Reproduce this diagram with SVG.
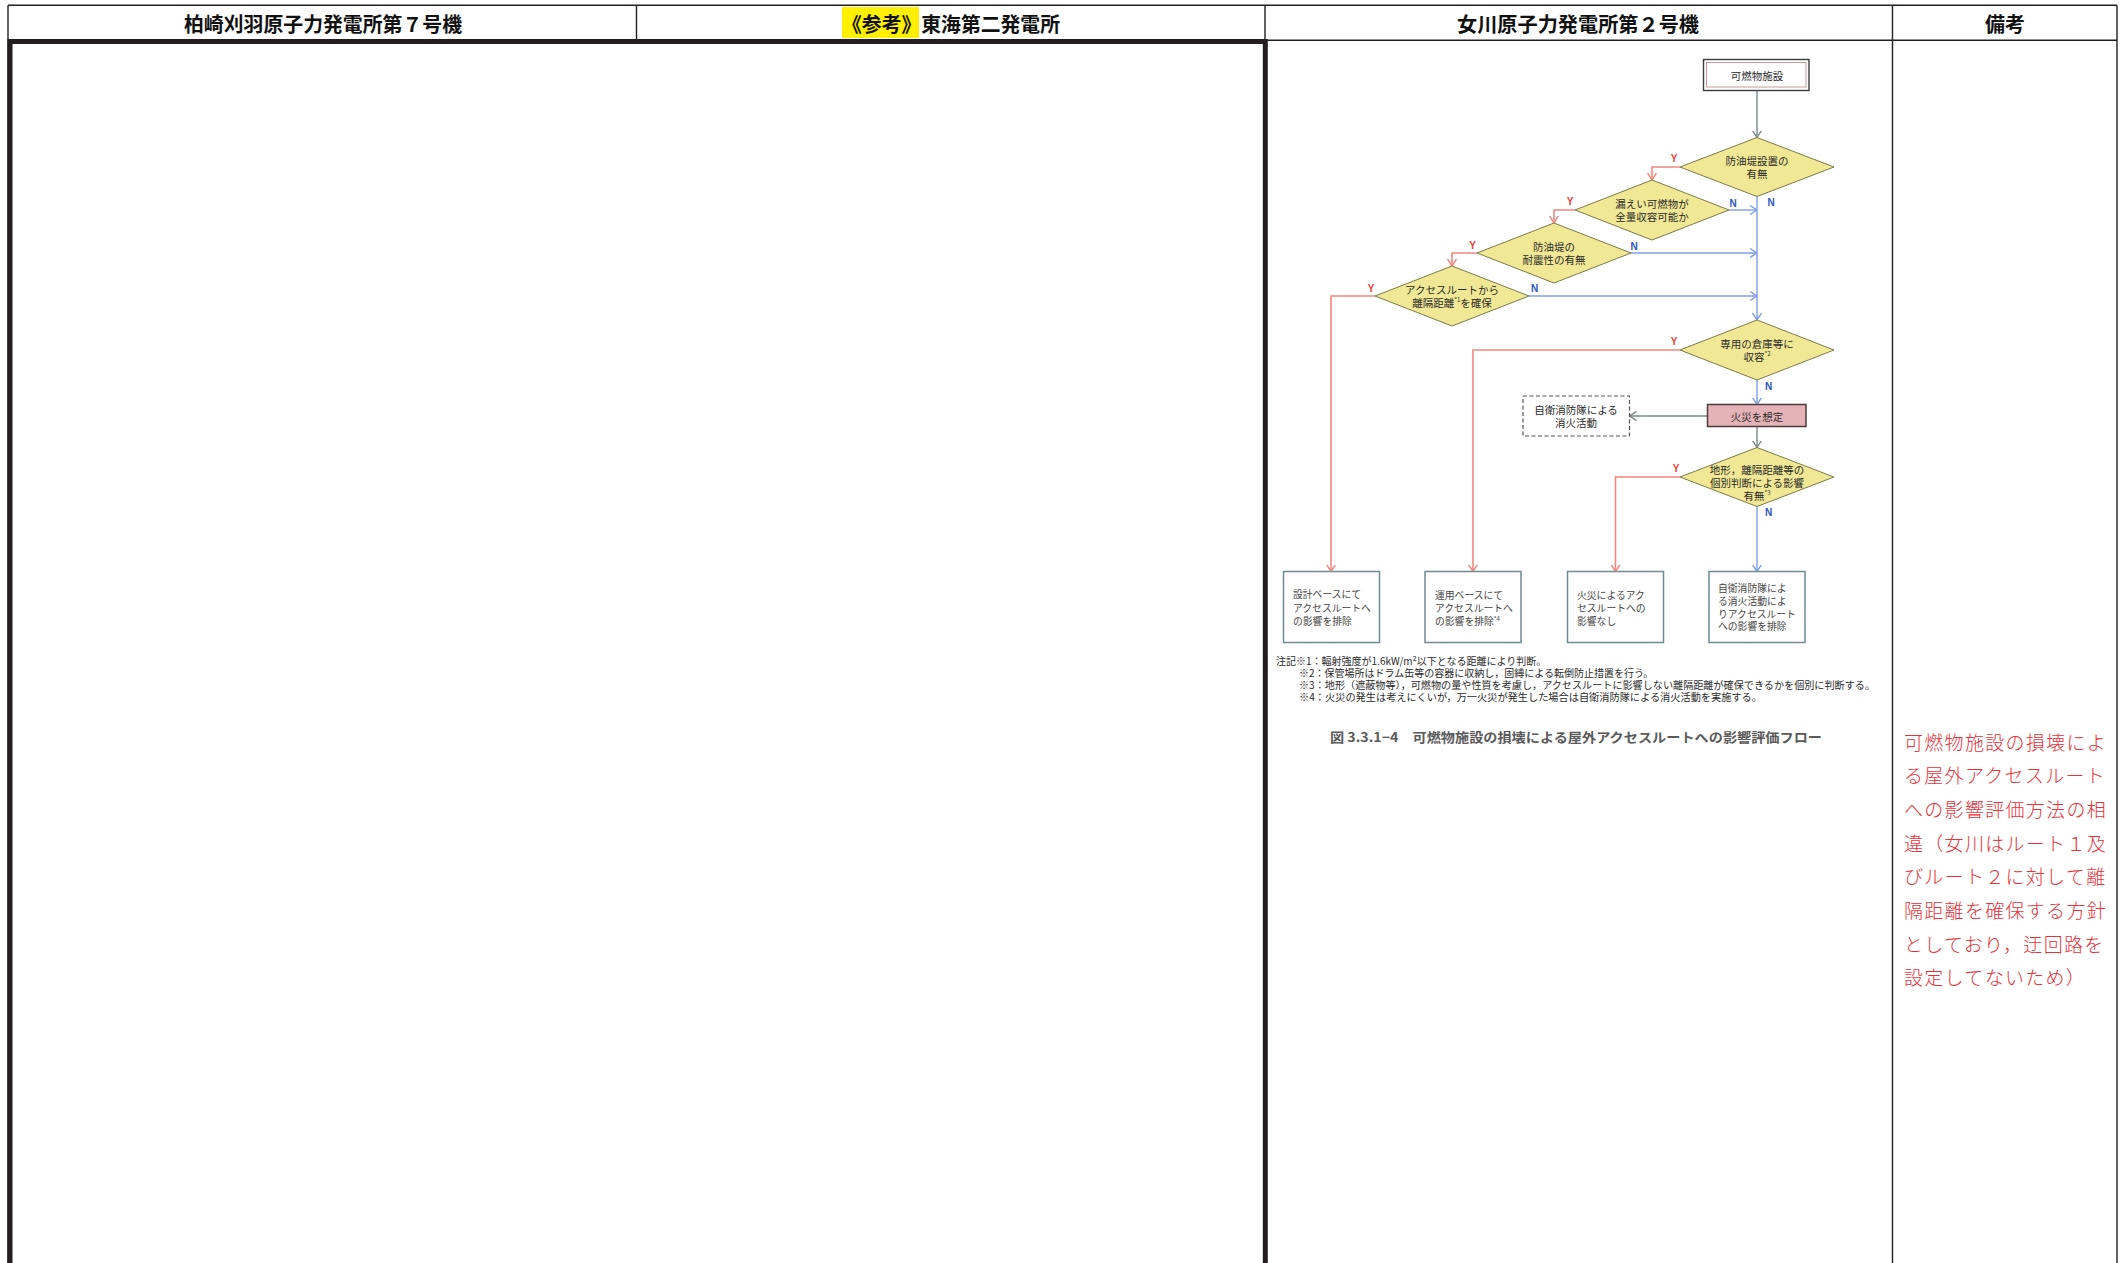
<svg xmlns="http://www.w3.org/2000/svg" width="2123" height="1263" viewBox="0 0 2123 1263">
<style>
.grid{stroke:#231f20;stroke-width:1.4;fill:none}
.thick{stroke:#231f20;stroke-width:5;fill:none}
.hdr{font-family:"Noto Sans CJK JP","Liberation Sans",sans-serif;font-size:20px;font-weight:700;fill:#111;text-anchor:middle;dominant-baseline:central}
.t{font-family:"Noto Sans CJK JP","Liberation Sans",sans-serif;font-size:10.5px;fill:#2a2a2a;text-anchor:middle;dominant-baseline:central}
.bt{font-family:"Noto Sans CJK JP","Liberation Sans",sans-serif;font-size:9.8px;fill:#444;dominant-baseline:central}
.note{font-family:"Noto Sans CJK JP","Liberation Sans",sans-serif;font-size:10px;fill:#2a2a2a;dominant-baseline:central}
.cap{font-family:"Noto Sans CJK JP","Liberation Sans",sans-serif;font-size:13px;font-weight:700;fill:#5a5a5a;dominant-baseline:central}
.rem{font-family:"Noto Sans CJK JP","Liberation Serif",serif;font-size:19px;font-weight:300;fill:#e8313a;letter-spacing:1.3px;dominant-baseline:central}
.dia{fill:#f1e895;stroke:#7d7a4a;stroke-width:1}
.box{fill:#fff;stroke:#6f8b90;stroke-width:1.5}
.red{stroke:#f3877f;stroke-width:1.6;fill:none}
.blue{stroke:#7f9de6;stroke-width:1.4;fill:none}
.gray{stroke:#7b8a8c;stroke-width:1.4;fill:none}
.y{font-family:"Liberation Sans",Arial,sans-serif;font-size:10px;font-weight:700;fill:#e8403a;text-anchor:middle;dominant-baseline:central}
.n{font-family:"Liberation Sans",Arial,sans-serif;font-size:10px;font-weight:700;fill:#2c56c4;text-anchor:middle;dominant-baseline:central}
</style>
<defs>
<marker id="ar" viewBox="0 0 7 10" refX="7" refY="5" markerWidth="7" markerHeight="10" markerUnits="userSpaceOnUse" orient="auto"><path d="M0,0.5 L7,5 L0,9.5" fill="none" stroke="#f3877f" stroke-width="1.5"/></marker>
<marker id="ab" viewBox="0 0 7 10" refX="7" refY="5" markerWidth="7" markerHeight="10" markerUnits="userSpaceOnUse" orient="auto"><path d="M0,0.5 L7,5 L0,9.5" fill="none" stroke="#7f9de6" stroke-width="1.4"/></marker>
<marker id="ag" viewBox="0 0 7 10" refX="7" refY="5" markerWidth="7" markerHeight="10" markerUnits="userSpaceOnUse" orient="auto"><path d="M0,0.5 L7,5 L0,9.5" fill="none" stroke="#7b8a8c" stroke-width="1.4"/></marker>
</defs>
<rect width="2123" height="1263" fill="#fff"/>

<g id="table">
<line class="grid" x1="8" y1="5.3" x2="2117" y2="5.3"/>
<line class="grid" x1="8" y1="40.3" x2="2117" y2="40.3"/>
<line class="grid" x1="8" y1="5.3" x2="8" y2="1263"/>
<line class="grid" x1="636.5" y1="5.3" x2="636.5" y2="40.3"/>
<line class="grid" x1="1265" y1="5.3" x2="1265" y2="40.3"/>
<line class="grid" x1="1892.5" y1="5.3" x2="1892.5" y2="1263"/>
<line class="grid" x1="2117" y1="5.3" x2="2117" y2="1263"/>
<path class="thick" d="M10,1266 L10,41.6 L1265.3,41.6 L1265.3,1266"/>
</g>

<g id="header">
<rect x="842" y="7" width="77" height="31" fill="#ffef00"/>
<text class="hdr" x="323" y="23" textLength="278" lengthAdjust="spacingAndGlyphs">柏崎刈羽原子力発電所第７号機</text>
<text class="hdr" x="951" y="23" textLength="218" lengthAdjust="spacingAndGlyphs">《参考》東海第二発電所</text>
<text class="hdr" x="1578" y="23" textLength="242" lengthAdjust="spacingAndGlyphs">女川原子力発電所第２号機</text>
<text class="hdr" x="2005" y="23">備考</text>
</g>

<g id="connectors">
<line class="gray" x1="1757" y1="90.5" x2="1757" y2="137.5" marker-end="url(#ag)"/>
<path class="red" d="M1680,167 H1652 V180" marker-end="url(#ar)"/>
<path class="red" d="M1575,210 H1554 V223" marker-end="url(#ar)"/>
<path class="red" d="M1477,253 H1452 V266" marker-end="url(#ar)"/>
<path class="red" d="M1375,296 H1331 V571.5" marker-end="url(#ar)"/>
<path class="red" d="M1680,350 H1473 V571.5" marker-end="url(#ar)"/>
<path class="red" d="M1680,477 H1615.5 V571.5" marker-end="url(#ar)"/>
<line class="blue" x1="1757" y1="196.5" x2="1757" y2="320" marker-end="url(#ab)"/>
<line class="blue" x1="1729" y1="210" x2="1757" y2="210" marker-end="url(#ab)"/>
<line class="blue" x1="1631" y1="253" x2="1757" y2="253" marker-end="url(#ab)"/>
<line class="blue" x1="1529" y1="296" x2="1757" y2="296" marker-end="url(#ab)"/>
<line class="blue" x1="1757" y1="380" x2="1757" y2="404.5" marker-end="url(#ab)"/>
<line class="blue" x1="1757" y1="506.5" x2="1757" y2="571.5" marker-end="url(#ab)"/>
<line class="gray" x1="1707.5" y1="416" x2="1629.5" y2="416" marker-end="url(#ag)"/>
<line class="gray" x1="1757" y1="426.5" x2="1757" y2="447.5" marker-end="url(#ag)"/>
<text class="y" x="1674" y="158">Y</text>
<text class="y" x="1570" y="201.5">Y</text>
<text class="y" x="1472.5" y="245">Y</text>
<text class="y" x="1371" y="288">Y</text>
<text class="y" x="1674" y="341.5">Y</text>
<text class="y" x="1676" y="468">Y</text>
<text class="n" x="1771" y="202.5">N</text>
<text class="n" x="1733" y="203">N</text>
<text class="n" x="1634" y="246">N</text>
<text class="n" x="1534.5" y="288">N</text>
<text class="n" x="1768.5" y="386">N</text>
<text class="n" x="1768.5" y="512.5">N</text>
</g>

<g id="start">
<rect x="1703.5" y="59.5" width="105.5" height="31" fill="#fff" stroke="#3d3d3d" stroke-width="1.4"/>
<rect x="1706.5" y="62.5" width="99.5" height="24.5" fill="none" stroke="#c99a9a" stroke-width="1"/>
<text class="t" x="1757" y="75">可燃物施設</text>
</g>

<g id="d1">
<polygon class="dia" points="1757,137.5 1834,167 1757,196.5 1680,167"/>
<text class="t" x="1757" y="160">防油堤設置の</text>
<text class="t" x="1757" y="173">有無</text>
</g>
<g id="d2">
<polygon class="dia" points="1652,180 1729,210 1652,240 1575,210"/>
<text class="t" x="1652" y="203">漏えい可燃物が</text>
<text class="t" x="1652" y="216">全量収容可能か</text>
</g>
<g id="d3">
<polygon class="dia" points="1554,223 1631,253 1554,283 1477,253"/>
<text class="t" x="1554" y="246">防油堤の</text>
<text class="t" x="1554" y="259">耐震性の有無</text>
</g>
<g id="d4">
<polygon class="dia" points="1452,266 1529,296 1452,326 1375,296"/>
<text class="t" x="1452" y="289">アクセスルートから</text>
<text class="t" x="1452" y="302">離隔距離<tspan font-size="6" dy="-3">*1</tspan><tspan dy="3">を確保</tspan></text>
</g>
<g id="d5">
<polygon class="dia" points="1757,320 1834,350 1757,380 1680,350"/>
<text class="t" x="1757" y="343">専用の倉庫等に</text>
<text class="t" x="1757" y="356">収容<tspan font-size="6" dy="-3">*2</tspan></text>
</g>
<g id="fire">
<rect x="1707.5" y="404.5" width="98.5" height="22" fill="#e5b3b7" stroke="#4d3a3a" stroke-width="1.5"/>
<text class="t" x="1757" y="416">火災を想定</text>
</g>
<g id="selfdef">
<rect x="1523" y="396" width="106.5" height="40" fill="#fff" stroke="#555" stroke-width="1.2" stroke-dasharray="4,2.5"/>
<text class="t" x="1576" y="409.5">自衛消防隊による</text>
<text class="t" x="1576" y="422">消火活動</text>
</g>
<g id="d6">
<polygon class="dia" points="1757,447.5 1834,477 1757,506.5 1680,477"/>
<text class="t" x="1757" y="469.5">地形，離隔距離等の</text>
<text class="t" x="1757" y="482">個別判断による影響</text>
<text class="t" x="1757" y="495">有無<tspan font-size="6" dy="-3">*3</tspan></text>
</g>

<g id="b1">
<rect class="box" x="1283.5" y="571.5" width="96" height="71"/>
<text class="bt" x="1293" y="593.5">設計ベースにて</text>
<text class="bt" x="1293" y="607.5">アクセスルートへ</text>
<text class="bt" x="1293" y="620.5">の影響を排除</text>
</g>
<g id="b2">
<rect class="box" x="1425" y="571.5" width="96" height="71"/>
<text class="bt" x="1435" y="595">運用ベースにて</text>
<text class="bt" x="1435" y="607.5">アクセスルートへ</text>
<text class="bt" x="1435" y="620.5">の影響を排除<tspan font-size="6" dy="-3">*4</tspan></text>
</g>
<g id="b3">
<rect class="box" x="1567.5" y="571.5" width="96" height="71"/>
<text class="bt" x="1577" y="595">火災によるアク</text>
<text class="bt" x="1577" y="607.5">セスルートへの</text>
<text class="bt" x="1577" y="620.5">影響なし</text>
</g>
<g id="b4">
<rect class="box" x="1709" y="571.5" width="96" height="71"/>
<text class="bt" x="1718" y="588">自衛消防隊によ</text>
<text class="bt" x="1718" y="601">る消火活動によ</text>
<text class="bt" x="1718" y="613.5">りアクセスルート</text>
<text class="bt" x="1718" y="625.5">への影響を排除</text>
</g>

<g id="notes">
<text class="note" x="1276" y="660">注記※1：輻射強度が1.6kW/m²以下となる距離により判断。</text>
<text class="note" x="1299" y="672">※2：保管場所はドラム缶等の容器に収納し，固縛による転倒防止措置を行う。</text>
<text class="note" x="1299" y="684" textLength="576" lengthAdjust="spacingAndGlyphs">※3：地形（遮蔽物等），可燃物の量や性質を考慮し，アクセスルートに影響しない離隔距離が確保できるかを個別に判断する。</text>
<text class="note" x="1299" y="696" textLength="463" lengthAdjust="spacingAndGlyphs">※4：火災の発生は考えにくいが，万一火災が発生した場合は自衛消防隊による消火活動を実施する。</text>
<text class="cap" x="1330" y="736" textLength="492" lengthAdjust="spacingAndGlyphs">図 3.3.1−4　可燃物施設の損壊による屋外アクセスルートへの影響評価フロー</text>
</g>

<g id="remarks">
<text class="rem" x="1904" y="741">可燃物施設の損壊によ</text>
<text class="rem" x="1904" y="774.5">る屋外アクセスルート</text>
<text class="rem" x="1904" y="808">への影響評価方法の相</text>
<text class="rem" x="1904" y="842">違（女川はルート１及</text>
<text class="rem" x="1904" y="875.5">びルート２に対して離</text>
<text class="rem" x="1904" y="909">隔距離を確保する方針</text>
<text class="rem" x="1904" y="943">としており，迂回路を</text>
<text class="rem" x="1904" y="976.5">設定してないため）</text>
</g>
</svg>
